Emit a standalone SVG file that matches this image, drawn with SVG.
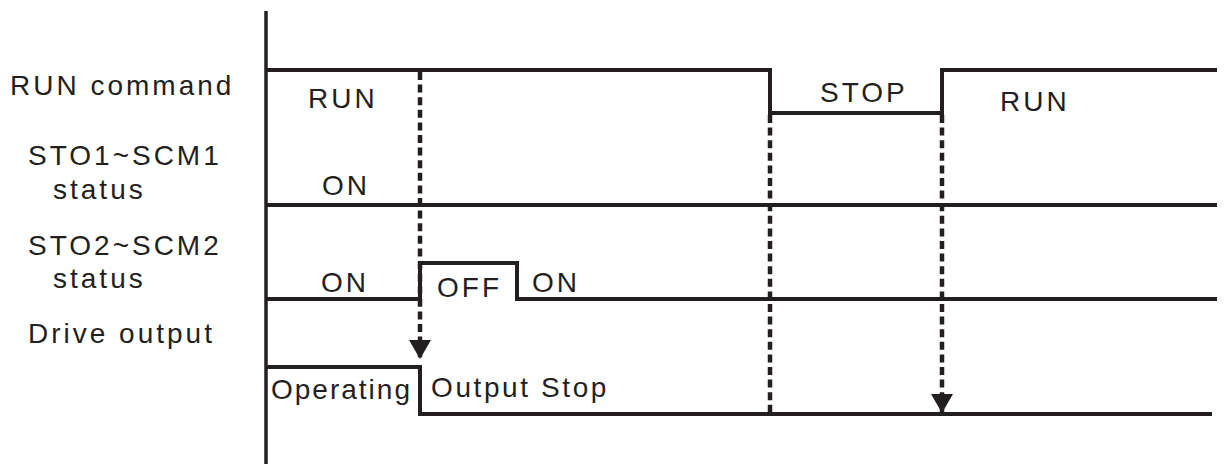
<svg xmlns="http://www.w3.org/2000/svg" width="1231" height="464" viewBox="0 0 1231 464">
  <style>
    .t { font-family: "Liberation Sans", Arial, sans-serif; font-size: 28px; fill: #231f20; letter-spacing: 3px; }
    .w { fill: none; stroke: #231f20; stroke-width: 4; stroke-linejoin: miter; }
    .d { fill: none; stroke: #231f20; stroke-width: 4.5; stroke-dasharray: 8 4.6; }
  </style>
  <defs>
    <marker id="arr" markerUnits="userSpaceOnUse" viewBox="0 -11 19 22" refX="19" refY="0" markerWidth="19" markerHeight="22" orient="auto">
      <path d="M0,-11 L19,0 L0,11 z" fill="#231f20"/>
    </marker>
  </defs>
  <rect width="1231" height="464" fill="#ffffff"/>

  <g id="axis">
    <line x1="266" y1="11" x2="266" y2="464" stroke="#231f20" stroke-width="3.5"/>
  </g>

  <g id="labels">
    <text class="t" x="10" y="95">RUN command</text>
    <text class="t" x="28" y="165">STO1~SCM1</text>
    <text class="t" x="53" y="199">status</text>
    <text class="t" x="28" y="255">STO2~SCM2</text>
    <text class="t" x="53" y="288">status</text>
    <text class="t" x="28" y="343">Drive output</text>
  </g>

  <g id="run-command">
    <path class="w" d="M266 70 H770 V113 H942 V70 H1217"/>
    <text class="t" x="308" y="108">RUN</text>
    <text class="t" x="820" y="102">STOP</text>
    <text class="t" x="1000" y="111">RUN</text>
  </g>

  <g id="sto1">
    <path class="w" d="M266 205 H1217"/>
    <text class="t" x="322" y="195">ON</text>
  </g>

  <g id="sto2">
    <path class="w" d="M266 299 H420 V263 H517 V299 H1217"/>
    <text class="t" x="321" y="292">ON</text>
    <text class="t" x="437" y="297">OFF</text>
    <text class="t" x="532" y="292">ON</text>
  </g>

  <g id="drive-output">
    <path class="w" d="M266 367 H420 V414 H1212"/>
    <text class="t" x="271" y="399" style="letter-spacing:2px">Operating</text>
    <text class="t" x="431" y="397" style="letter-spacing:2.6px">Output Stop</text>
  </g>

  <g id="connectors">
    <line class="d" x1="420" y1="72" x2="420" y2="359" marker-end="url(#arr)"/>
    <line class="d" x1="770" y1="115" x2="770" y2="414"/>
    <line class="d" x1="942" y1="115" x2="942" y2="413" marker-end="url(#arr)"/>
  </g>
</svg>
